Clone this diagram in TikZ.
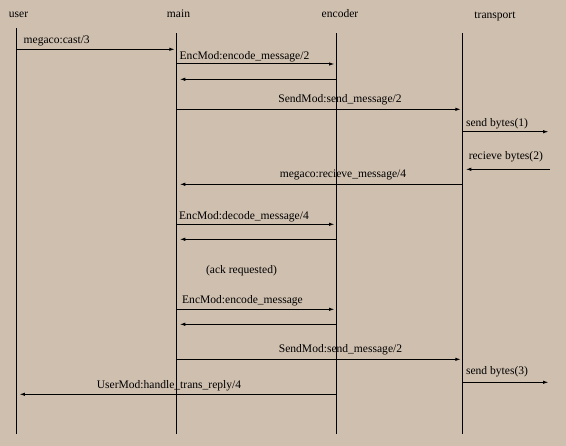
\documentclass[tikz,border=0pt]{standalone}
\usepackage{fontspec}
\setmainfont{Liberation Serif}
\usetikzlibrary{arrows.meta}
\definecolor{paper}{RGB}{207,191,175}

\begin{document}
\begin{tikzpicture}[x=1bp,y=-1bp,font=\fontsize{11.6}{13}\selectfont,
    lbl/.style = {anchor=base,inner sep=0pt},
    life/.style = {line width=1bp},
    msg/.style = {-{Latex[length=5.5pt,width=3.5pt]},line width=1bp,shorten >=1.5pt},
    ret/.style = {msg,shorten >=3.5pt}]
\fill[paper] (0,0) rectangle (566,446);
\useasboundingbox (0,0) rectangle (566,446);
\foreach \n/\x/\t in {user/16/28.3,main/176.3/33.3,encoder/336/33.3,transport/462.3/33.3} {
    \coordinate (\n-top) at (\x,\t);
    \coordinate (\n-bot) at (\x,434.3);
    \draw[life] (\n-top) -- (\n-bot);
}
\coordinate (net-top) at (550,0);
\foreach \n/\x/\y in {user/18.5/17.5,main/178.5/17.5,encoder/340/18,transport/495/18.5} \node[lbl] (\n) at (\x,\y) {\n};
\foreach \a/\b/\y/\s in {user/main/49.3/msg,main/encoder/64/msg,encoder/main/79.3/ret,main/transport/109.3/msg,
    transport/net/131.7/msg,net/transport/169.3/ret,transport/main/184.3/ret,main/encoder/224.3/msg,
    encoder/main/239.3/ret,main/encoder/309.3/msg,encoder/main/324.3/ret,main/transport/359.3/msg,
    transport/net/382.3/msg,encoder/user/394.3/ret}
    \draw[\s] (\a-top |- 0,\y) -- (\b-top |- 0,\y);
\foreach \t/\x/\y [count=\i] in {{megaco:cast/3}/56.7/43.3,{EncMod:encode\_message/2}/244.5/59.3,
    {SendMod:send\_message/2}/340/102.3,{send bytes(1)}/497/126.7,{recieve bytes(2)}/505.8/159.3,
    {megaco:recieve\_message/4}/343/177.3,{EncMod:decode\_message/4}/244/219.3,{(ack requested)}/241.5/273.5,
    {EncMod:encode\_message}/242.5/303.7,{SendMod:send\_message/2}/340.5/352.3,{send bytes(3)}/497/374,
    {UserMod:handle\_trans\_reply/4}/169/388.3}
    \node[lbl] (l\i) at (\x,\y) {\t};
\end{tikzpicture}
\end{document}
